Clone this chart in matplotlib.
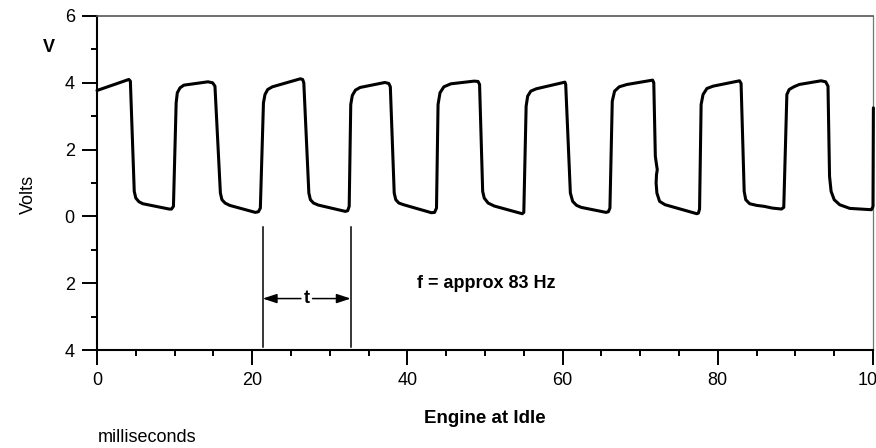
import matplotlib
matplotlib.use("Agg")
import matplotlib.pyplot as plt

# ---- data ----
time_ms = [0, 4.1, 4.3, 4.8, 5.0, 5.4, 5.9, 9.3, 9.6, 9.85,
           10.2, 10.35, 10.7, 11.2, 14.3, 14.9, 15.2,
           15.9, 16.1, 16.5, 17.1, 20.4, 20.8, 21.05,
           21.45, 21.65, 22.0, 22.6, 26.2, 26.5, 26.65,
           27.3, 27.5, 27.9, 28.5, 32.0, 32.3, 32.5,
           32.7, 32.9, 33.3, 33.9, 37.1, 37.6, 37.8,
           38.3, 38.5, 38.9, 39.5, 43.1, 43.5, 43.75,
           43.95, 44.2, 44.7, 45.6, 48.6, 49.1, 49.3,
           49.7, 49.9, 50.4, 51.2, 54.8, 55.0,
           55.3, 55.5, 55.9, 56.6, 60.3, 60.4,
           61.0, 61.3, 61.8, 62.4, 65.6, 65.9, 66.1,
           66.4, 66.7, 67.3, 68.3, 71.6, 71.75,
           71.95, 72.1, 72.2, 72.1, 72.05, 72.15, 72.5, 73.2, 77.3, 77.5, 77.65,
           77.85, 78.1, 78.6, 79.4, 82.8, 83.0,
           83.4, 83.6, 84.1, 85.0, 86.0, 87.0, 88.2, 88.5,
           88.9, 89.2, 89.8, 90.5, 93.3, 93.9, 94.2,
           94.4, 94.6, 95.0, 95.7, 97.0, 99.8, 100.0, 100.05]
volts = [3.77, 4.1, 4.05, 0.75, 0.55, 0.44, 0.38, 0.22, 0.22, 0.3,
         3.4, 3.7, 3.85, 3.93, 4.03, 4.0, 3.9,
         0.7, 0.5, 0.4, 0.33, 0.12, 0.14, 0.25,
         3.4, 3.65, 3.8, 3.88, 4.12, 4.1, 4.0,
         0.7, 0.5, 0.4, 0.34, 0.15, 0.17, 0.3,
         3.35, 3.62, 3.78, 3.86, 4.01, 3.98, 3.88,
         0.7, 0.5, 0.4, 0.35, 0.11, 0.12, 0.25,
         3.35, 3.7, 3.88, 3.97, 4.05, 4.04, 3.95,
         0.75, 0.55, 0.4, 0.31, 0.08, 0.12,
         3.3, 3.6, 3.75, 3.82, 4.02, 3.95,
         0.7, 0.45, 0.33, 0.27, 0.12, 0.14, 0.25,
         3.45, 3.75, 3.88, 3.95, 4.08, 4.0,
         1.8, 1.55, 1.4, 1.25, 1.0, 0.7, 0.45, 0.35, 0.08, 0.1, 0.22,
         3.35, 3.65, 3.83, 3.9, 4.06, 3.98,
         0.75, 0.5, 0.38, 0.33, 0.3, 0.25, 0.22, 0.27,
         3.65, 3.8, 3.88, 3.95, 4.06, 4.03, 3.9,
         1.2, 0.75, 0.5, 0.35, 0.24, 0.2, 0.3, 3.25]

x_ticks = [0, 20, 40, 60, 80, 100]
x_tick_labels = ["0", "20", "40", "60", "80", "100"]
y_ticks = [-4, -2, 0, 2, 4, 6]
y_tick_labels = ["4", "2", "0", "2", "4", "6"]
period_start = 21.35
period_end = 32.7
freq_text = "f = approx 83 Hz"

plt.rcParams['font.family'] = ['Liberation Sans', 'DejaVu Sans']

W, H = 876, 448
fig = plt.figure(figsize=(W / 100, H / 100), dpi=100)
ax = fig.add_axes([97 / W, (H - 350) / H, 776 / W, 334 / H])

ax.plot(time_ms, volts, color='black', lw=2.2, solid_joinstyle='round',
        solid_capstyle='round', clip_on=False, zorder=3)

ax.set_xlim(0, 100)
ax.set_ylim(-4, 6)

ax.set_xticks(x_ticks)
ax.set_xticklabels(x_tick_labels)
ax.set_xticks(range(0, 101, 5), minor=True)
ax.set_yticks(y_ticks)
ax.set_yticklabels(y_tick_labels)
ax.set_yticks(range(-3, 6, 2), minor=True)

ax.tick_params(axis='both', which='major', length=11, width=1.4, color='black',
               labelsize=13, direction='out')
ax.tick_params(axis='both', which='minor', length=4.5, width=1.4, color='black',
               direction='out')
ax.tick_params(axis='x', which='major', pad=5)
ax.tick_params(axis='y', which='major', pad=5)

for s in ['left', 'bottom']:
    ax.spines[s].set_linewidth(1.5)
    ax.spines[s].set_color('black')
ax.spines['top'].set_linewidth(1.2)
ax.spines['top'].set_color('#555555')
ax.spines['right'].set_linewidth(0.9)
ax.spines['right'].set_color('#777777')

# period markers
for xv in (period_start, period_end):
    ax.plot([xv, xv], [-0.32, -3.91], color='black', lw=1.1, zorder=2)
arrow_y = -2.46
t_x = (period_start + period_end) / 2
ap = dict(arrowstyle='-|>,head_length=0.85,head_width=0.28', color='black',
          lw=1.1, shrinkA=0, shrinkB=0)
ax.annotate('', xy=(period_start, arrow_y), xytext=(t_x - 0.75, arrow_y), arrowprops=ap)
ax.annotate('', xy=(period_end, arrow_y), xytext=(t_x + 0.75, arrow_y), arrowprops=ap)
ax.text(t_x, arrow_y, 't', ha='center', va='center', fontsize=13, fontweight='bold')

ax.text(41.2, -2.0, freq_text, ha='left', va='center', fontsize=13, fontweight='bold')

# labels
fig.text(49 / W, 1 - 48 / H, 'V', ha='center', va='center', fontsize=13, fontweight='bold')
fig.text(28 / W, 1 - 194 / H, 'Volts', ha='center', va='center', rotation=90, fontsize=13)
fig.text(485 / W, 1 - 418 / H, 'Engine at Idle', ha='center', va='center',
         fontsize=13.5, fontweight='bold')
fig.text(98 / W, 1 - 437 / H, 'milliseconds', ha='left', va='center', fontsize=13)

fig.savefig('out.png', dpi=100)
